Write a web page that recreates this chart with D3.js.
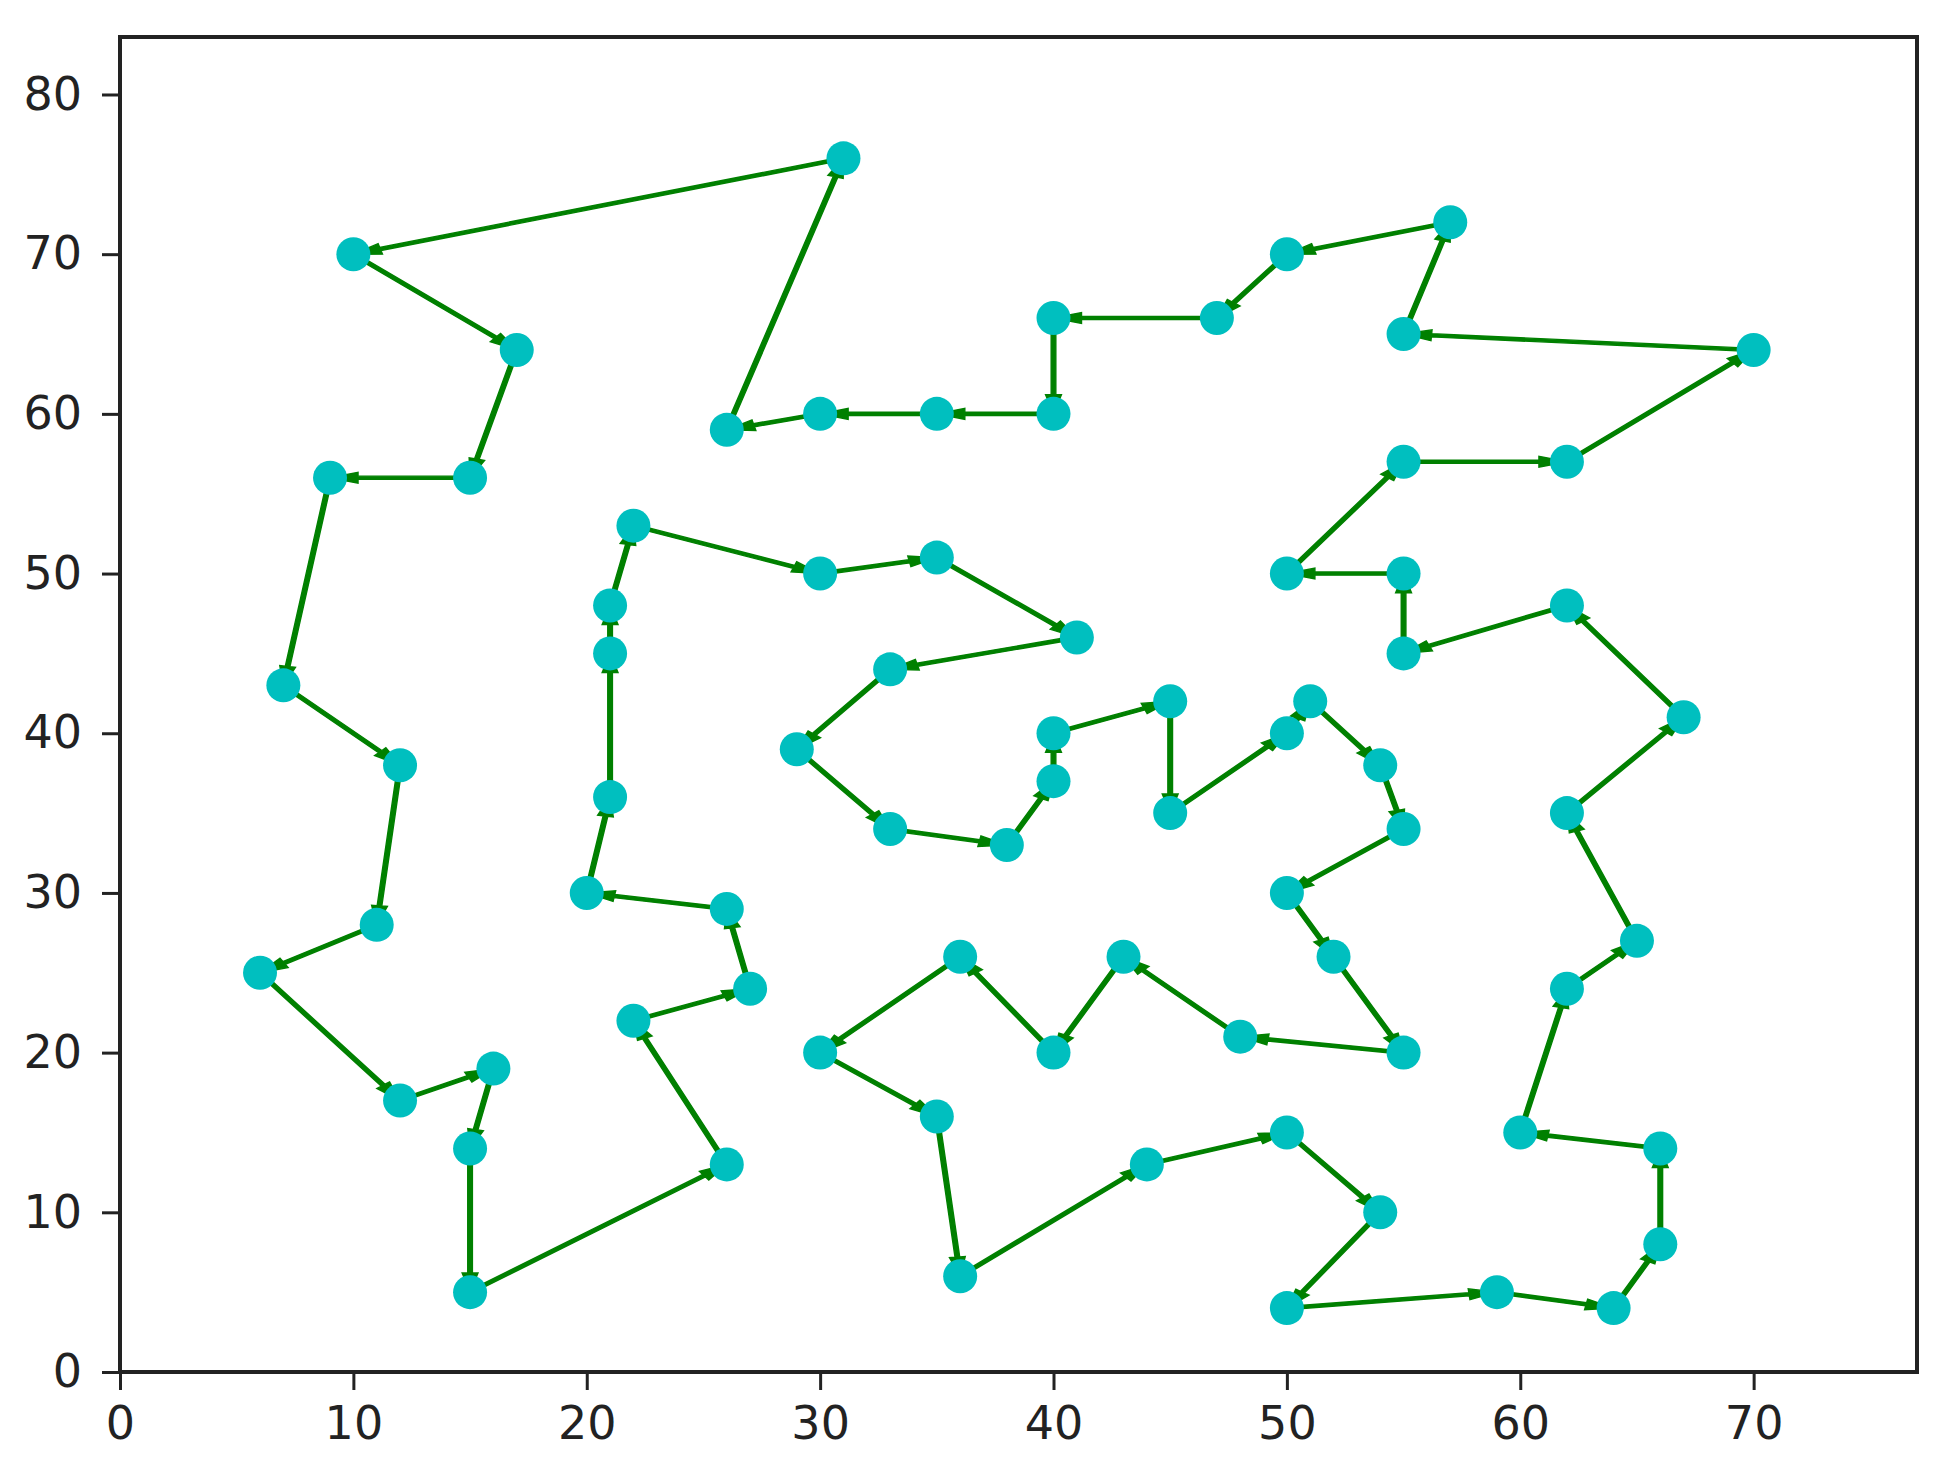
<!DOCTYPE html>
<html><head><meta charset="utf-8">
<script src="https://cdn.jsdelivr.net/npm/d3@7"></script>
<style>body{margin:0;background:#fff;} svg{display:block;}</style>
</head><body>
<svg id="chart" width="1948" height="1466"></svg>
<script>
// Tour order (x, y of each city, visited in sequence; closed loop)
const tourX = [31,10,17,15,9,7,12,11,6,12,16,15,15,26,22,27,26,20,21,21,21,22,30,35,41,33,29,33,38,40,40,45,45,50,51,54,55,50,52,55,48,43,40,36,30,35,36,44,50,54,50,59,64,66,66,60,62,65,62,67,62,55,55,50,55,62,70,55,57,50,47,40,40,35,30,26];
const tourY = [76,70,64,56,56,43,38,28,25,17,19,14,5,13,22,24,29,30,36,45,48,53,50,51,46,44,39,34,33,37,40,42,35,40,42,38,34,30,26,20,21,26,20,26,20,16,6,13,15,10,4,5,4,8,14,15,24,27,35,41,48,45,50,50,57,57,64,65,72,70,66,66,60,60,60,59];
const xTicks = [0,10,20,30,40,50,60,70];
const yTicks = [0,10,20,30,40,50,60,70,80];
const xDomain = [0,77];
const yDomain = [0,83.6];

const svg = d3.select("#chart");
const L = 120, R = 1917, T = 37, B = 1372;
const x = d3.scaleLinear().domain(xDomain).range([L,R]);
const y = d3.scaleLinear().domain(yDomain).range([B,T]);

const pts = tourX.map((v,i)=>({x:v,y:tourY[i]}));
const segs = pts.map((p,i)=>({a:p,b:pts[(i+1)%pts.length]}));

// arrow shape in data units (like a FancyArrow, tip at the target city)
const bodyW = 0.2, headW = 0.68, headL = 1.2;
function arrowPath(d){
  const dx=d.b.x-d.a.x, dy=d.b.y-d.a.y, len=Math.hypot(dx,dy);
  const ux=dx/len, uy=dy/len, px=-uy, py=ux;
  const bx=d.b.x-ux*headL, by=d.b.y-uy*headL;
  const P=[
    [d.a.x+px*bodyW/2, d.a.y+py*bodyW/2],
    [bx+px*bodyW/2, by+py*bodyW/2],
    [bx+px*headW/2, by+py*headW/2],
    [d.b.x, d.b.y],
    [bx-px*headW/2, by-py*headW/2],
    [bx-px*bodyW/2, by-py*bodyW/2],
    [d.a.x-px*bodyW/2, d.a.y-py*bodyW/2]
  ];
  return "M"+P.map(p=>x(p[0]).toFixed(2)+","+y(p[1]).toFixed(2)).join("L")+"Z";
}

svg.append("g").selectAll("path").data(segs).join("path")
  .attr("d",arrowPath)
  .attr("fill","#008000").attr("stroke","#008000").attr("stroke-width",1.4)
  .attr("stroke-linejoin","miter");

// points on top
svg.append("g").selectAll("circle").data(pts).join("circle")
  .attr("cx",d=>x(d.x)).attr("cy",d=>y(d.y)).attr("r",17)
  .attr("fill","#00bfbf");

// axes
const fontFam = "'DejaVu Sans', sans-serif";
const xAxis = svg.append("g").attr("transform",`translate(0,${B})`)
  .call(d3.axisBottom(x).tickValues(xTicks).tickSize(18).tickPadding(16).tickFormat(d3.format("d")));
const yAxis = svg.append("g").attr("transform",`translate(${L},0)`)
  .call(d3.axisLeft(y).tickValues(yTicks).tickSize(18).tickPadding(20).tickFormat(d3.format("d")));
[xAxis,yAxis].forEach(g=>{
  g.select(".domain").remove();
  g.selectAll(".tick line").attr("stroke","#222").attr("stroke-width",3);
  g.selectAll(".tick text").attr("fill","#222").style("font-family",fontFam).style("font-size","46px");
});

// frame
svg.append("rect").attr("x",L).attr("y",T).attr("width",R-L).attr("height",B-T)
  .attr("fill","none").attr("stroke","#222").attr("stroke-width",4);
</script>
</body></html>
